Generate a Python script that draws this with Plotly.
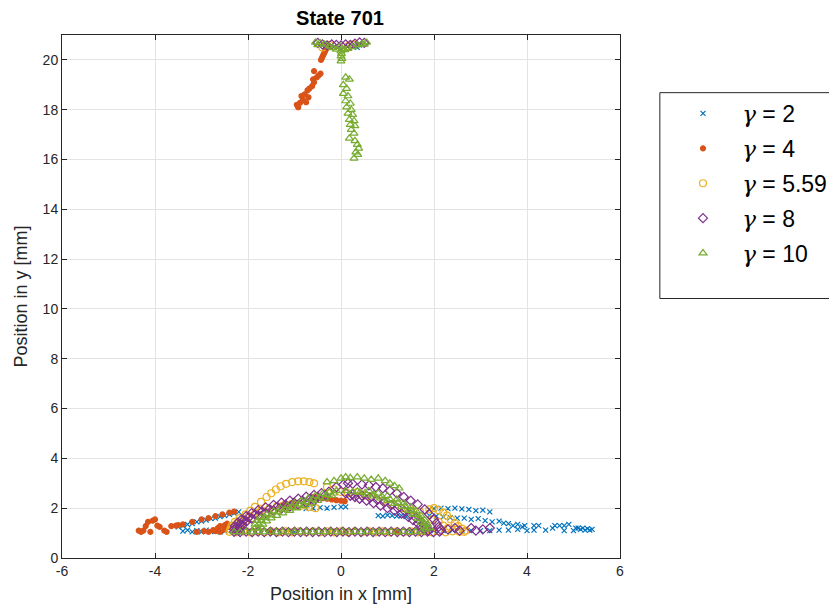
import plotly.graph_objects as go

# ---------------- data (mm) ----------------
labels = ["2", "4", "5.59", "8", "10"]
colors = ["#0072BD", "#D95319", "#EDB120", "#7E2F8E", "#77AC30"]
x_ticks = [-6, -4, -2, 0, 2, 4, 6]
x_tick_text = ["-6", "-4", "-2", "0", "2", "4", "6"]
y_ticks = [0, 2, 4, 6, 8, 10, 12, 14, 16, 18, 20]

g2_x = [-3.4, -3.3, -3.2, -3.1, -3.0, -2.9, -2.8, -2.7, -2.6, -2.5,
        -3.5, -3.4, -3.3, -3.2, -3.1, -3.0, -2.9, -2.8, -2.7, -2.6, -2.5, -2.4, -2.3, -2.2,
        -0.75, -0.6, -0.45, -0.3, -0.15, 0.0, 0.1,
        0.8, 0.9, 1.0, 1.1, 1.2, 1.3, 1.4,
        1.9, 2.0, 2.15, 2.3, 2.45, 2.6, 2.75, 2.9, 3.05, 3.2,
        1.9, 2.05, 2.2, 2.35, 2.5, 2.65, 2.8, 2.95, 3.1, 3.25, 3.4, 3.5, 3.6, 3.7, 3.8, 3.9, 3.95,
        2.0, 2.2, 2.4, 2.6, 2.8, 3.0, 3.2, 3.4, 3.6, 3.8, 4.0,
        4.15, 4.25, 4.15, 4.4, 4.6, 4.55, 4.7, 4.8, 4.9, 4.8, 5.0, 5.1, 5.15, 5.2, 5.25, 5.3, 5.35, 5.4, 5.05,
        -1.0, 0.5, 1.5,
        0.3, 0.4, 0.35, -0.3]
g2_y = [1.08, 1.12, 1.05, 1.1, 1.05, 1.12, 1.06, 1.1, 1.05, 1.08,
        1.25, 1.3, 1.35, 1.38, 1.45, 1.48, 1.52, 1.58, 1.6, 1.66, 1.7, 1.75, 1.8, 1.85,
        1.98, 2.0, 2.02, 2.0, 2.03, 2.05, 2.05,
        1.7, 1.68, 1.72, 1.7, 1.68, 1.7, 1.66,
        1.95, 1.98, 2.0, 1.98, 2.0, 1.97, 1.95, 1.9, 1.92, 1.85,
        1.7, 1.68, 1.65, 1.62, 1.6, 1.6, 1.55, 1.58, 1.5, 1.45, 1.48, 1.4, 1.38, 1.3, 1.35, 1.25, 1.3,
        1.1, 1.1, 1.12, 1.1, 1.1, 1.1, 1.1, 1.12, 1.12, 1.15, 1.1,
        1.3, 1.3, 1.12, 1.12, 1.3, 1.2, 1.3, 1.3, 1.35, 1.1, 1.1, 1.2, 1.15, 1.2, 1.12, 1.18, 1.12, 1.15, 1.2,
        1.05, 1.05, 1.05,
        20.55, 20.6, 20.5, 20.65]

g4_x = [-4.3, -4.25, -4.2, -4.15, -4.05, -4.0, -3.95, -3.9, -3.8, -3.75, -3.65, -3.55, -3.5, -3.4, -4.1, -4.35,
        -3.2, -3.0, -2.85, -2.7, -2.55, -2.4, -2.3,
        -3.1, -2.95, -2.85, -2.75, -2.65, -2.6, -2.5, -2.45, -2.4, -2.5, -2.6, -2.7,
        -1.3, -1.2, -1.05, -0.6, -0.5, -0.4, -0.3, -0.2, -0.1, 0.0, 0.08,
        -1.5, 0.1, 1.2,
        -0.92, -0.95, -0.88, -0.82, -0.85, -0.78, -0.72, -0.68, -0.62, -0.58, -0.6, -0.52, -0.48, -0.44, -0.58, -0.7, -0.75,
        -0.43, -0.41, -0.39, -0.37, -0.35, -0.33, -0.31, -0.29]
g4_y = [1.05, 1.1, 1.28, 1.45, 1.5, 1.55, 1.3, 1.25, 1.1, 1.05, 1.28, 1.3, 1.32, 1.35, 1.05, 1.1,
        1.45, 1.55, 1.6, 1.68, 1.75, 1.82, 1.86,
        1.05, 1.08, 1.05, 1.12, 1.2, 1.28, 1.32, 1.38, 1.25, 1.15, 1.05, 1.08,
        2.1, 2.12, 2.15, 2.45, 2.42, 2.4, 2.38, 2.35, 2.32, 2.3, 2.28,
        1.05, 1.05, 1.05,
        18.1, 18.2, 18.28, 18.4, 18.55, 18.62, 18.78, 18.85, 18.95, 19.1, 19.22, 19.3, 19.38, 19.45, 19.55, 18.5, 18.3,
        20.0, 20.08, 20.16, 20.24, 20.32, 20.4, 20.48, 20.55]

g559_x = [-2.4, -2.25, -2.1, -1.95, -1.8, -1.65, -1.5, -1.35, -1.2, -1.05, -0.9, -0.75, -0.6, -0.45, -0.3, -0.15,
          0.0, 0.15, 0.3, 0.45, 0.6, 0.75, 0.9, 1.05, 1.2, 1.35, 1.5, 1.65, 1.8, 1.95, 2.1, 2.25, 2.4, 2.55, 2.65,
          -2.38, -2.35, -2.28, -2.18, -2.05, -1.95, -1.85, -1.72, -1.6, -1.5, -1.4, -1.3, -1.18, -1.05, -0.92, -0.8, -0.68, -0.58,
          -2.25, -2.15, -2.05, -1.9, -1.75, -1.6, -1.45, -1.3, -1.15, -1.0, -0.85, -0.7, -0.55,
          -2.32, -2.22, -2.1, -1.98, -1.84, -1.7, -1.54, -1.38, -1.22, -1.06, -0.9, -0.74,
          -0.3, -0.15, 0.0, 0.15, 0.35, 0.45, 0.55, 0.65,
          0.9, 1.1, 1.3, 1.5, 1.7, 1.9, 2.0, 2.1, 2.2, 2.28, 2.36, 2.45, 2.52, 2.6, 2.68, 1.95, 2.1, 2.2, 2.3,
          -0.25, 0.15, -0.4, 0.25]
g559_y = [1.05, 1.03, 1.07, 1.03, 1.07, 1.03, 1.07, 1.03, 1.07, 1.03, 1.07, 1.03, 1.07, 1.03, 1.07, 1.03,
          1.07, 1.03, 1.07, 1.03, 1.07, 1.03, 1.07, 1.03, 1.07, 1.03, 1.07, 1.03, 1.07, 1.03, 1.07, 1.03, 1.07, 1.05, 1.05,
          1.15, 1.3, 1.45, 1.6, 1.75, 1.9, 2.05, 2.25, 2.45, 2.6, 2.75, 2.88, 2.98, 3.05, 3.08, 3.08, 3.05, 3.0,
          1.2, 1.35, 1.48, 1.6, 1.72, 1.82, 1.9, 1.98, 2.05, 2.08, 2.1, 2.05, 2.0,
          1.25, 1.42, 1.56, 1.68, 1.8, 1.9, 1.98, 2.06, 2.12, 2.16, 2.18, 2.14,
          2.85, 2.75, 2.65, 2.6, 2.65, 2.55, 2.5, 2.45,
          2.3, 2.15, 2.0, 1.9, 1.85, 1.95, 2.0, 1.92, 1.82, 1.7, 1.55, 1.4, 1.28, 1.18, 1.1, 1.55, 1.45, 1.3, 1.2,
          20.6, 20.55, 20.5, 20.62]

g8_x = [-2.3, -2.17, -2.04, -1.91, -1.78, -1.65, -1.52, -1.39, -1.26, -1.13, -1.0, -0.87, -0.74, -0.61, -0.48, -0.35,
        -0.22, -0.09, 0.04, 0.17, 0.3, 0.43, 0.56, 0.69, 0.82, 0.95, 1.08, 1.21, 1.34, 1.47, 1.6, 1.73, 1.86, 1.99, 2.12,
        2.3, 2.45, 2.55, 2.8, 2.9, 3.05, 3.2,
        -2.3, -2.28, -2.22, -2.14, -2.04, -1.92, -1.78, -1.62, -1.45, -1.28, -1.1, -0.92, -0.75, -0.58, -0.42, -0.26,
        -2.2, -2.18, -2.12, -2.03, -1.92, -1.78, -1.62, -1.45, -1.28, -1.1, -0.92, -0.75, -0.58,
        -2.25, -2.23, -2.17, -2.09, -1.98, -1.85, -1.7, -1.54, -1.37, -1.19, -1.01, -0.83, -0.66, -0.5, -0.34,
        -0.1, 0.05, 0.15, 0.25, 0.45, 0.6, 0.75, 0.9, 1.05, 1.2,
        0.2, 0.3, 0.4, 0.55, 0.7, 0.85, 1.0, 1.15, 1.3, 1.45, 1.55, 1.65, 1.72, 1.78,
        0.1, 0.25, 0.45, 0.62, 0.78, 0.93, 1.08, 1.22, 1.37, 1.5, 1.61, 1.7, 1.78, 1.84, 1.88,
        1.35, 1.5, 1.65, 1.8, 1.9, 2.0, 2.05, 2.1, 2.15,
        -0.5, -0.4, -0.3, -0.2, -0.1, 0.0, 0.1, 0.2, 0.3, 0.4, 0.5]
g8_y = [1.05, 1.04, 1.06, 1.04, 1.06, 1.04, 1.06, 1.04, 1.06, 1.04, 1.06, 1.04, 1.06, 1.04, 1.06, 1.04,
        1.06, 1.04, 1.06, 1.04, 1.06, 1.04, 1.06, 1.04, 1.06, 1.04, 1.06, 1.04, 1.06, 1.04, 1.06, 1.04, 1.06, 1.04, 1.06,
        1.15, 1.2, 1.1, 1.2, 1.1, 1.15, 1.2,
        1.15, 1.28, 1.42, 1.55, 1.68, 1.8, 1.92, 2.03, 2.13, 2.22, 2.3, 2.38, 2.46, 2.53, 2.6, 2.66,
        1.1, 1.22, 1.35, 1.47, 1.58, 1.7, 1.8, 1.9, 1.98, 2.06, 2.14, 2.22, 2.3,
        1.12, 1.25, 1.38, 1.51, 1.63, 1.75, 1.86, 1.96, 2.05, 2.14, 2.22, 2.3, 2.38, 2.45, 2.52,
        2.85, 2.95, 3.0, 2.98, 2.95, 2.92, 2.85, 2.8, 2.7, 2.6,
        2.5, 2.45, 2.38, 2.3, 2.2, 2.1, 2.0, 1.9, 1.78, 1.65, 1.52, 1.4, 1.28, 1.15,
        2.6, 2.56, 2.5, 2.42, 2.33, 2.23, 2.12, 2.0, 1.88, 1.75, 1.62, 1.48, 1.35, 1.22, 1.1,
        2.45, 2.3, 2.15, 1.95, 1.75, 1.55, 1.4, 1.25, 1.12,
        20.68, 20.62, 20.58, 20.62, 20.6, 20.58, 20.62, 20.6, 20.65, 20.7, 20.68]

g10_x = [-2.3, -2.17, -2.04, -1.91, -1.78, -1.65, -1.52, -1.39, -1.26, -1.13, -1.0, -0.87, -0.74, -0.61, -0.48, -0.35,
         -0.22, -0.09, 0.04, 0.17, 0.3, 0.43, 0.56, 0.69, 0.82, 0.95, 1.08, 1.21, 1.34, 1.47, 1.6, 1.73,
         -1.85, -1.85, -1.8, -1.72, -1.6, -1.45, -1.3, -1.15, -1.0, -0.85, -0.7, -0.55, -0.4, -0.25, -0.1,
         -1.7, -1.68, -1.6, -1.5, -1.38, -1.25, -1.1, -0.95, -0.8, -0.65, -0.5, -0.35, -0.2,
         -1.78, -1.77, -1.71, -1.62, -1.5, -1.36, -1.21, -1.06, -0.91, -0.76, -0.61, -0.46, -0.31, -0.16,
         -0.3, -0.15, 0.0, 0.1, 0.2, 0.35, 0.5, 0.65, 0.8, 0.95, 1.05, 1.15, 1.25,
         0.1, 0.25, 0.4, 0.55, 0.7, 0.85, 1.0, 1.15, 1.3, 1.45, 1.55, 1.65, 1.72, 1.78, 1.82,
         0.6, 0.8, 1.0, 1.2, 1.35, 1.5, 1.62, 1.72, 1.8, 1.86, 1.9,
         0.35, 0.52, 0.7, 0.88, 1.05, 1.22, 1.37, 1.5, 1.62, 1.71, 1.79, 1.84,
         0.0, 0.02, 0.0, 0.01, 0.0, 0.02, -0.02,
         -0.55, -0.45, -0.35, -0.25, -0.18, -0.1, 0.55, 0.45, 0.35, 0.25, 0.15, 0.08, -0.5, 0.5,
         0.1, 0.18, 0.05, 0.12, 0.05, 0.15, 0.1, 0.2, 0.12, 0.22, 0.15, 0.25, 0.18, 0.28, 0.2, 0.3, 0.22, 0.28,
         0.18, 0.3, 0.35, 0.38, 0.32, 0.36, 0.28]
g10_y = [1.05, 1.04, 1.06, 1.04, 1.06, 1.04, 1.06, 1.04, 1.06, 1.04, 1.06, 1.04, 1.06, 1.04, 1.06, 1.04,
         1.06, 1.04, 1.06, 1.04, 1.06, 1.04, 1.06, 1.04, 1.06, 1.04, 1.06, 1.04, 1.06, 1.04, 1.06, 1.04,
         1.2, 1.35, 1.5, 1.62, 1.75, 1.88, 2.0, 2.1, 2.2, 2.3, 2.4, 2.5, 2.58, 2.65, 2.7,
         1.2, 1.35, 1.48, 1.6, 1.7, 1.8, 1.9, 2.0, 2.1, 2.2, 2.3, 2.4, 2.5,
         1.2, 1.35, 1.49, 1.61, 1.72, 1.84, 1.95, 2.05, 2.15, 2.25, 2.35, 2.45, 2.54, 2.6,
         3.05, 3.1, 3.2, 3.25, 3.22, 3.25, 3.2, 3.15, 3.2, 3.1, 3.0, 2.9, 2.8,
         2.7, 2.65, 2.62, 2.55, 2.48, 2.4, 2.3, 2.18, 2.05, 1.9, 1.75, 1.58, 1.42, 1.28, 1.15,
         2.7, 2.6, 2.5, 2.35, 2.2, 2.05, 1.88, 1.7, 1.52, 1.35, 1.2,
         2.68, 2.62, 2.56, 2.47, 2.36, 2.22, 2.08, 1.92, 1.75, 1.58, 1.4, 1.22,
         19.95, 20.05, 20.15, 20.25, 20.35, 20.45, 20.55,
         20.7, 20.68, 20.62, 20.55, 20.48, 20.42, 20.7, 20.65, 20.6, 20.52, 20.45, 20.4, 20.6, 20.62,
         19.3, 19.22, 19.0, 18.85, 18.65, 18.55, 18.35, 18.25, 18.1, 18.0, 17.85, 17.8, 17.6, 17.55, 17.4, 17.35, 17.2, 17.05,
         16.85, 16.75, 16.6, 16.45, 16.3, 16.2, 16.05]

xs = [g2_x, g4_x, g559_x, g8_x, g10_x]
ys = [g2_y, g4_y, g559_y, g8_y, g10_y]
symbols = ["x-thin", "circle", "circle-open", "diamond-open", "triangle-up-open"]
sizes = [5, 5, 7, 7, 7]

FONT = "Liberation Sans, Arial, Helvetica"

fig = go.Figure()
for i in range(5):
    fig.add_trace(go.Scatter(
        x=xs[i], y=ys[i], mode="markers",
        name="&nbsp;&nbsp;&nbsp;<i><span style='font-family:DejaVu Serif'>γ</span></i> = " + labels[i],
        legendgroup="g" + str(i),
        marker=dict(symbol=symbols[i], size=sizes[i], color=colors[i],
                    line=dict(color=colors[i], width=1.2)),
    ))

axis_common = dict(
    showgrid=True, gridcolor="#e3e3e3", gridwidth=1, zeroline=False,
    showline=True, linecolor="#262626", linewidth=1, mirror="ticks",
    ticks="inside", ticklen=5, tickcolor="#262626",
    tickfont=dict(family=FONT, size=14, color="#262626"),
)
fig.update_xaxes(range=[-6, 6], tickvals=x_ticks, ticktext=x_tick_text,
                 title=dict(text="Position in x [mm]", standoff=9,
                            font=dict(family=FONT, size=18, color="#262626")),
                 **axis_common)
fig.update_yaxes(range=[0, 21], tickvals=y_ticks,
                 title=dict(text="Position in y [mm]", standoff=10,
                            font=dict(family=FONT, size=18, color="#262626")),
                 **axis_common)

# page body has an 8px margin, so the figure is offset by 8px
W, H = 829, 604
PL, PR, PT, PB = 52, 612, 27, 553   # plot area in figure pixels


def px_x(p):
    return (p - PL) / (PR - PL)


def px_y(p):
    return (PB - p) / (PB - PT)


# legend frame (runs off the right edge as in the reference)
fig.add_shape(type="rect", xref="paper", yref="paper",
              x0=px_x(652), x1=px_x(840), y0=px_y(292), y1=px_y(85),
              line=dict(color="#262626", width=1), fillcolor="white", layer="below")

fig.update_layout(
    width=W, height=H,
    margin=dict(l=PL, r=W - PR, t=PT, b=H - PB),
    paper_bgcolor="white", plot_bgcolor="white",
    title=dict(text="<b>State 701</b>", x=332 / W, xanchor="center",
               y=1 - 10 / H, yanchor="middle",
               font=dict(family=FONT, size=20, color="black")),
    legend=dict(x=652 / W, xanchor="left", y=1 - 84 / H, yanchor="top",
                xref="container", yref="container",
                bgcolor="rgba(0,0,0,0)", borderwidth=0,
                font=dict(family=FONT, size=23, color="black"),
                tracegroupgap=2, indentation=23),
    showlegend=True,
)

fig.write_html("out.html")
